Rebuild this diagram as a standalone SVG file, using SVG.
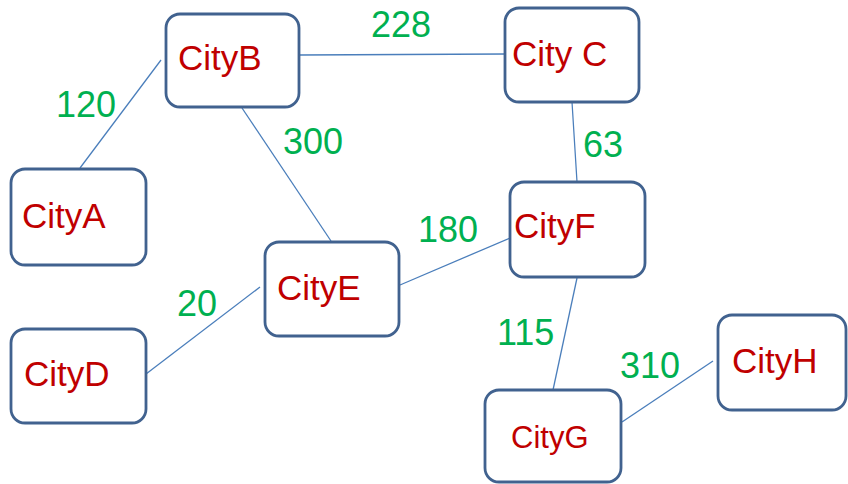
<svg xmlns="http://www.w3.org/2000/svg" width="848" height="484" viewBox="0 0 848 484">
  <style>
    .box { fill: #ffffff; stroke: #41628f; stroke-width: 2.8; }
    .name { font-family: "Liberation Sans", Arial, sans-serif; font-size: 35px; fill: #c00000; }
    .small { font-size: 31px; }
    .dist { font-family: "Liberation Sans", Arial, sans-serif; font-size: 36px; fill: #00b050; }
    .edge { stroke: #4a7ebb; stroke-width: 1.3; fill: none; }
  </style>
  <rect width="848" height="484" fill="#ffffff"/>

  <!-- connectors between cities -->
  <g id="connectors">
    <line class="edge" x1="80" y1="168" x2="161" y2="60"/>
    <line class="edge" x1="300" y1="55" x2="505" y2="54"/>
    <line class="edge" x1="242" y1="108" x2="331" y2="241"/>
    <line class="edge" x1="572" y1="102" x2="577" y2="182"/>
    <line class="edge" x1="400" y1="285" x2="510" y2="238"/>
    <line class="edge" x1="146" y1="374" x2="260" y2="287"/>
    <line class="edge" x1="577" y1="278" x2="553" y2="390"/>
    <line class="edge" x1="622" y1="422" x2="713" y2="361"/>
  </g>

  <!-- distance labels -->
  <g id="distances">
    <text class="dist" x="56" y="117">120</text>
    <text class="dist" x="371" y="37">228</text>
    <text class="dist" x="283" y="154">300</text>
    <text class="dist" x="583" y="157">63</text>
    <text class="dist" x="418" y="242">180</text>
    <text class="dist" x="177" y="316">20</text>
    <text class="dist" x="497" y="345">115</text>
    <text class="dist" x="620" y="378">310</text>
  </g>

  <g id="cityA">
    <rect class="box" x="11" y="169" width="135" height="96" rx="14"/>
    <text class="name" x="22" y="228">CityA</text>
  </g>
  <g id="cityB">
    <rect class="box" x="166" y="14" width="133" height="93" rx="14"/>
    <text class="name" x="178" y="70">CityB</text>
  </g>
  <g id="cityC">
    <rect class="box" x="505" y="8" width="134" height="94" rx="14"/>
    <text class="name" x="512" y="66">City C</text>
  </g>
  <g id="cityD">
    <rect class="box" x="11" y="329" width="135" height="94" rx="14"/>
    <text class="name" x="24" y="386">CityD</text>
  </g>
  <g id="cityE">
    <rect class="box" x="265" y="242" width="134" height="94" rx="14"/>
    <text class="name" x="277" y="300">CityE</text>
  </g>
  <g id="cityF">
    <rect class="box" x="510" y="182" width="135" height="95" rx="14"/>
    <text class="name" x="514" y="238">CityF</text>
  </g>
  <g id="cityG">
    <rect class="box" x="485" y="390" width="136" height="92" rx="14"/>
    <text class="name small" x="511" y="448">CityG</text>
  </g>
  <g id="cityH">
    <rect class="box" x="718" y="315" width="128" height="95" rx="14"/>
    <text class="name" x="732" y="373">CityH</text>
  </g>
</svg>
